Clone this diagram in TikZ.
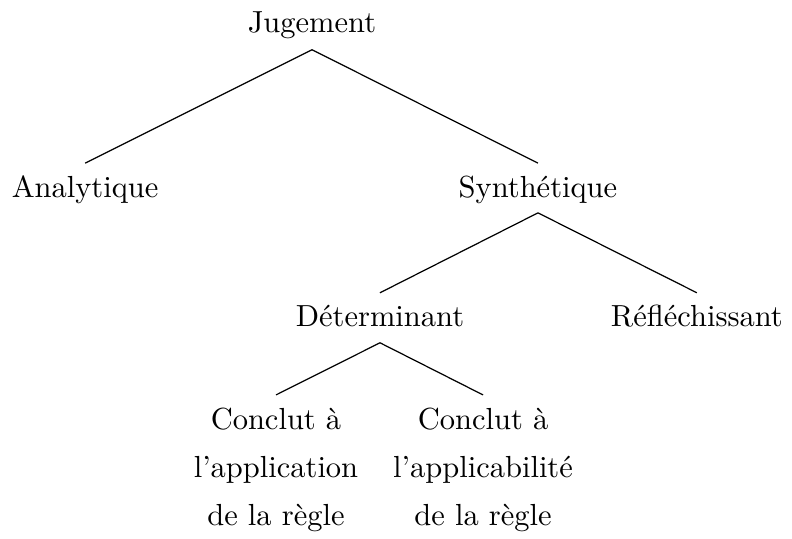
\documentclass[tikz,border=0pt]{standalone}
\begin{document}
\begin{tikzpicture}[x=1pt,y=1pt,
  lbl/.style={inner sep=0pt,anchor=base},
  mlbl/.style={inner sep=0pt,anchor=north,align=center,font=\fontsize{10}{15.6}\selectfont},
  edge/.style={draw=black,line width=0.4pt}]
\useasboundingbox (0,0) rectangle (259.7,-176.7);
\node[lbl] (J) at (102.3,-10.8) {Jugement};
\node[lbl] (A) at (27.9,-64.9) {Analytique};
\node[lbl] (S) at (176.4,-64.9) {Synthétique};
\node[lbl] (D) at (124.6,-106.9) {Déterminant};
\node[lbl] (R) at (228.5,-106.9) {Réfléchissant};
\node[mlbl] (C1) at (90.5,-133.7) {Conclut à\\l’application\\de la règle};
\node[mlbl] (C2) at (158.4,-133.7) {Conclut à\\l’applicabilité\\de la règle};
\draw[edge] ([yshift=-5.5pt]J.base) -- ([yshift=11.4pt]A.base);
\draw[edge] ([yshift=-5.5pt]J.base) -- ([yshift=11.4pt]S.base);
\draw[edge] ([yshift=-4.9pt]S.base) -- ([yshift=10.9pt]D.base);
\draw[edge] ([yshift=-4.9pt]S.base) -- ([yshift=10.9pt]R.base);
\draw[edge] ([yshift=-5.5pt]D.base) -- ([yshift=4.2pt]C1.north);
\draw[edge] ([yshift=-5.5pt]D.base) -- ([yshift=4.2pt]C2.north);
\end{tikzpicture}
\end{document}
